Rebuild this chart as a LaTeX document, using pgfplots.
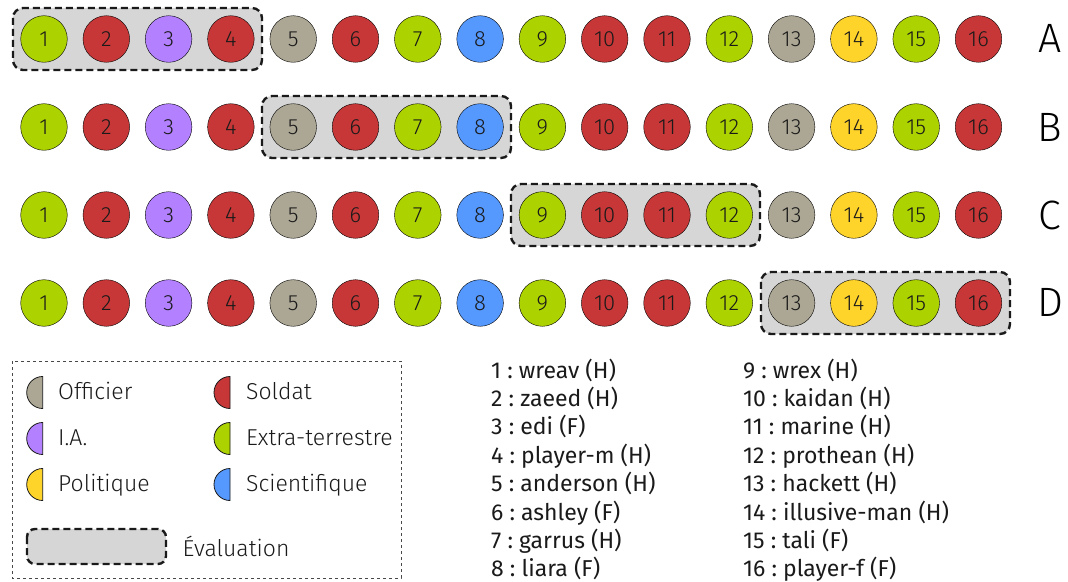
\documentclass[border=0pt]{standalone}
\usepackage{fontspec}
\setmainfont{Fira Sans}
\newfontfamily\lightfont{Fira Sans Light}
\usepackage{pgfplots}
\pgfplotsset{compat=1.18}
\frenchspacing

\definecolor{ink}{HTML}{1A1A1A}
\definecolor{cGreen}{RGB}{172,210,0}
\definecolor{cRed}{HTML}{C83737}
\definecolor{cPurple}{HTML}{B380FF}
\definecolor{cTan}{RGB}{172,167,148}
\definecolor{cBlue}{HTML}{5599FF}
\definecolor{cYellow}{HTML}{FFD42A}
\definecolor{evalfill}{RGB}{214,214,214}

\tikzset{
  evalbox/.style={draw=ink, fill=evalfill, line width=2.4pt,
    dash pattern=on 7pt off 4pt, rounded corners=10pt},
  halfc/.style={draw=ink, line width=0.8pt},
}

\begin{document}
\begin{tikzpicture}
\begin{axis}[
  width=1068pt, height=581pt, scale only axis,
  xmin=0, xmax=1068, ymin=0, ymax=581, y dir=reverse,
  hide axis, clip=false, set layers,
  every axis plot/.append style={only marks, mark=*, mark size=23.3pt,
    mark options={draw=ink, line width=0.9pt},
    nodes near coords, point meta=explicit symbolic},
  every node near coord/.append style={anchor=center, text=ink,
    font=\lightfont\fontsize{22}{22}\selectfont},
]
% keep the full canvas in the bounding box
\path (axis cs:0,0) rectangle (axis cs:1068,581);

% evaluation windows
\begin{pgfonlayer}{axis background}
\draw[evalbox] (axis cs:13,8) rectangle (axis cs:262,70);
\draw[evalbox] (axis cs:262,96) rectangle (axis cs:511,158);
\draw[evalbox] (axis cs:511,184) rectangle (axis cs:760,246);
\draw[evalbox] (axis cs:761,272) rectangle (axis cs:1010,334);
\end{pgfonlayer}

% Extra-terrestre
\addplot[mark options={fill=cGreen}] coordinates {
  (44,39)[1] (417.8,39)[7] (542.4,39)[9] (729.3,39)[12] (916.2,39)[15]
  (44,127)[1] (417.8,127)[7] (542.4,127)[9] (729.3,127)[12] (916.2,127)[15]
  (44,215)[1] (417.8,215)[7] (542.4,215)[9] (729.3,215)[12] (916.2,215)[15]
  (44,303)[1] (417.8,303)[7] (542.4,303)[9] (729.3,303)[12] (916.2,303)[15]
};
% Soldat
\addplot[mark options={fill=cRed}] coordinates {
  (106.3,39)[2] (230.9,39)[4] (355.5,39)[6] (604.7,39)[10] (667,39)[11] (978.5,39)[16]
  (106.3,127)[2] (230.9,127)[4] (355.5,127)[6] (604.7,127)[10] (667,127)[11] (978.5,127)[16]
  (106.3,215)[2] (230.9,215)[4] (355.5,215)[6] (604.7,215)[10] (667,215)[11] (978.5,215)[16]
  (106.3,303)[2] (230.9,303)[4] (355.5,303)[6] (604.7,303)[10] (667,303)[11] (978.5,303)[16]
};
% I.A.
\addplot[mark options={fill=cPurple}] coordinates {
  (168.6,39)[3] (168.6,127)[3] (168.6,215)[3] (168.6,303)[3]
};
% Officier
\addplot[mark options={fill=cTan}] coordinates {
  (293.2,39)[5] (791.6,39)[13] (293.2,127)[5] (791.6,127)[13]
  (293.2,215)[5] (791.6,215)[13] (293.2,303)[5] (791.6,303)[13]
};
% Scientifique
\addplot[mark options={fill=cBlue}] coordinates {
  (480.1,39)[8] (480.1,127)[8] (480.1,215)[8] (480.1,303)[8]
};
% Politique
\addplot[mark options={fill=cYellow}] coordinates {
  (853.9,39)[14] (853.9,127)[14] (853.9,215)[14] (853.9,303)[14]
};

% row labels
\node[font=\lightfont\fontsize{41}{41}\selectfont, text=black] at (axis cs:1050,38) {A};
\node[font=\lightfont\fontsize{41}{41}\selectfont, text=black] at (axis cs:1050,127) {B};
\node[font=\lightfont\fontsize{41}{41}\selectfont, text=black] at (axis cs:1050,215) {C};
\node[font=\lightfont\fontsize{41}{41}\selectfont, text=black] at (axis cs:1050,302) {D};

% legend
\draw[draw=ink!80, line width=0.8pt, dash pattern=on 3pt off 3pt]
  (axis cs:12,361) rectangle (axis cs:401,578);
\draw[halfc, fill=cTan] (axis cs:42.7,376.5) arc[start angle=90, end angle=270, radius=16pt] -- cycle;
\draw[halfc, fill=cPurple] (axis cs:42.7,422.5) arc[start angle=90, end angle=270, radius=16pt] -- cycle;
\draw[halfc, fill=cYellow] (axis cs:42.7,468.5) arc[start angle=90, end angle=270, radius=16pt] -- cycle;
\draw[halfc, fill=cRed] (axis cs:230,376.5) arc[start angle=90, end angle=270, radius=16pt] -- cycle;
\draw[halfc, fill=cGreen] (axis cs:230,422.5) arc[start angle=90, end angle=270, radius=16pt] -- cycle;
\draw[halfc, fill=cBlue] (axis cs:230,468.5) arc[start angle=90, end angle=270, radius=16pt] -- cycle;
\begin{scope}[every node/.style={anchor=base west, inner sep=0pt, text=ink,
    font=\lightfont\fontsize{23}{23}\selectfont}]
\node at (axis cs:58,399.5) {Officier};
\node at (axis cs:58,445.5) {I.A.};
\node at (axis cs:58,491.5) {Politique};
\node at (axis cs:246,399.5) {Soldat};
\node at (axis cs:246,445.5) {Extra-terrestre};
\node at (axis cs:246,491.5) {Scientifique};
\node at (axis cs:182.5,556) {Évaluation};
\end{scope}
\draw[evalbox, rounded corners=8pt] (axis cs:27,529) rectangle (axis cs:166,564);

% names
\begin{scope}[every node/.style={anchor=base west, inner sep=0pt, text=ink,
    font=\fontsize{23}{23}\selectfont}]
\node at (axis cs:491,378) {1 : wreav (H)};
\node at (axis cs:491,406.4) {2 : zaeed (H)};
\node at (axis cs:491,434.8) {3 : edi (F)};
\node at (axis cs:491,463.2) {4 : player-m (H)};
\node at (axis cs:491,491.6) {5 : anderson (H)};
\node at (axis cs:491,520) {6 : ashley (F)};
\node at (axis cs:491,548.4) {7 : garrus (H)};
\node at (axis cs:491,576.8) {8 : liara (F)};
\node at (axis cs:743,378) {9 : wrex (H)};
\node at (axis cs:743,406.4) {10 : kaidan (H)};
\node at (axis cs:743,434.8) {11 : marine (H)};
\node at (axis cs:743,463.2) {12 : prothean (H)};
\node at (axis cs:743,491.6) {13 : hackett (H)};
\node at (axis cs:743,520) {14 : illusive-man (H)};
\node at (axis cs:743,548.4) {15 : tali (F)};
\node at (axis cs:743,576.8) {16 : player-f (F)};
\end{scope}

\end{axis}
\end{tikzpicture}
\end{document}
